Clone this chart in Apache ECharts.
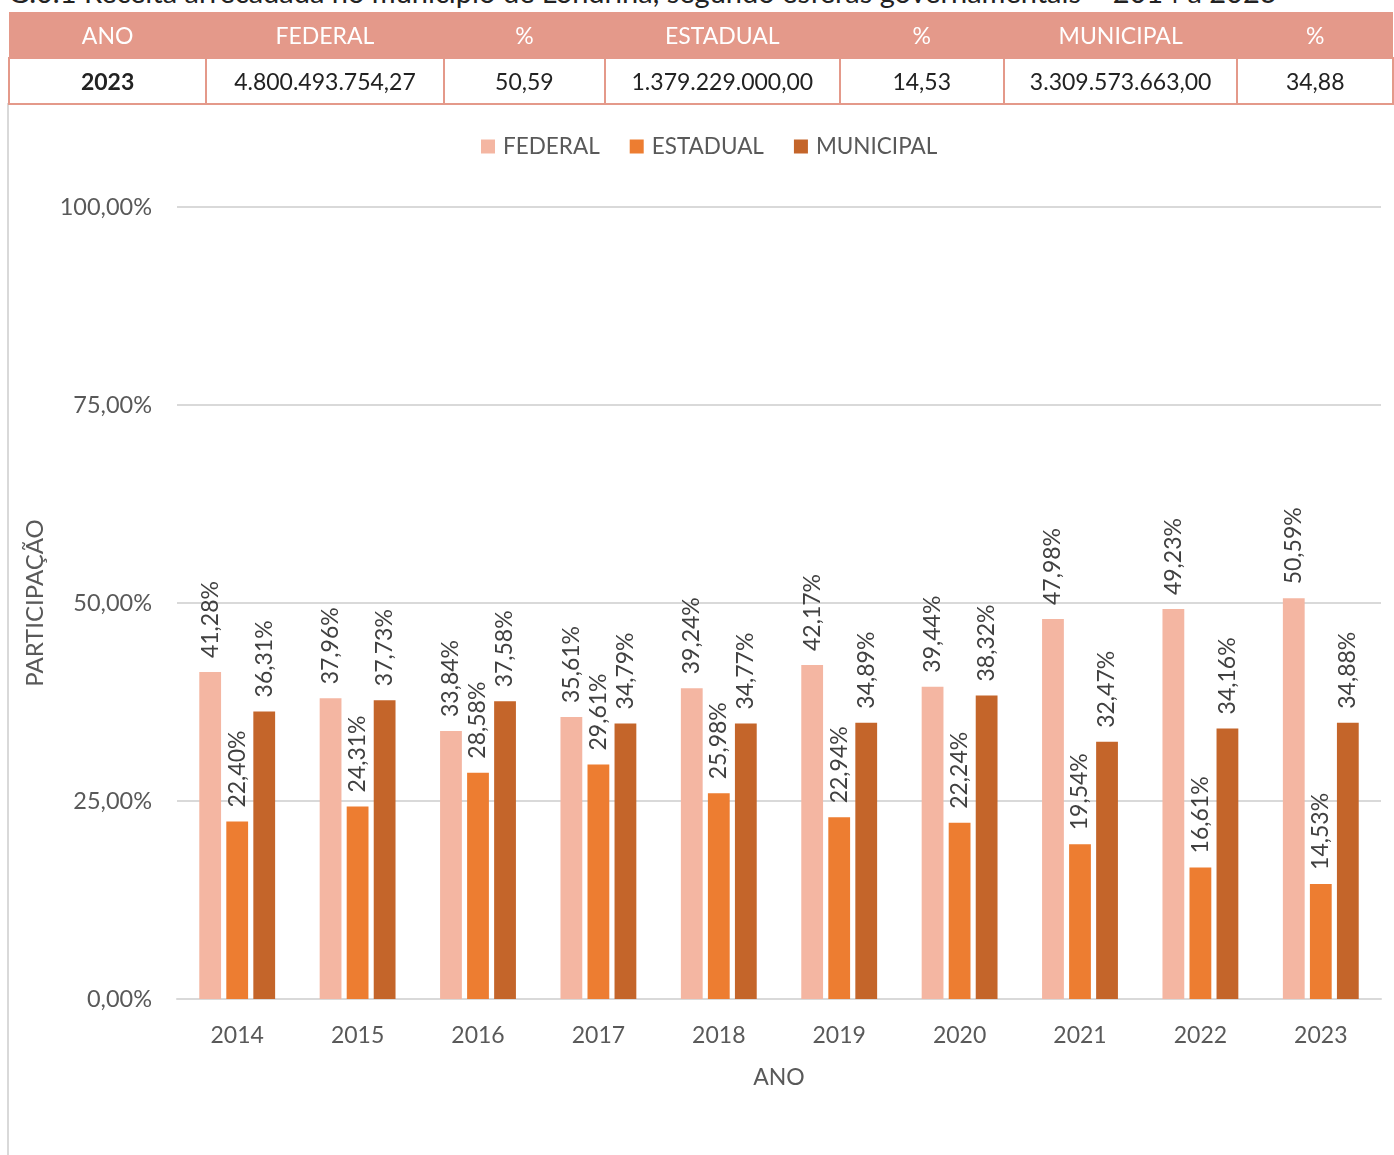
<!DOCTYPE html>
<html><head><meta charset="utf-8">
<script src="https://cdn.jsdelivr.net/npm/echarts@6/dist/echarts.min.js"></script>
<style>
html,body{margin:0;padding:0;background:#fff;width:1394px;height:1155px;overflow:hidden;font-family:Lato,"Noto Sans",sans-serif;}
#title{position:absolute;left:8px;top:-26px;font-size:29px;color:#222;white-space:nowrap;}
#tbl{position:absolute;left:8px;top:12px;border-collapse:collapse;table-layout:fixed;}
#tbl td{text-align:center;font-size:23px;padding:0;}
#tbl tr.h td{background:#E4998A;color:#fff;height:45px;}
#tbl tr.d td{background:#fff;color:#222;height:44px;border:2px solid #E4998A;}
#frame{position:absolute;left:7px;top:103px;width:1390px;height:1060px;border-left:2px solid #D9D9D9;border-top:2px solid #D9D9D9;}
#chart{position:absolute;left:0;top:0;width:1394px;height:1155px;}
</style></head>
<body>
<div id="title">G.0.1 Receita arrecadada no município de Londrina, segundo esferas governamentais – 2014 a 2023</div>
<div id="frame"></div>
<div id="chart"></div>
<table id="tbl"><tbody></tbody></table>
<script>
// ---- data ----
const tableHeaders = ['ANO','FEDERAL','%','ESTADUAL','%','MUNICIPAL','%'];
const tableRow = ['2023','4.800.493.754,27','50,59','1.379.229.000,00','14,53','3.309.573.663,00','34,88'];
const years = ['2014','2015','2016','2017','2018','2019','2020','2021','2022','2023'];
const federal   = [41.28, 37.96, 33.84, 35.61, 39.24, 42.17, 39.44, 47.98, 49.23, 50.59];
const estadual  = [22.40, 24.31, 28.58, 29.61, 25.98, 22.94, 22.24, 19.54, 16.61, 14.53];
const municipal = [36.31, 37.73, 37.58, 34.79, 34.77, 34.89, 38.32, 32.47, 34.16, 34.88];
const seriesNames = ['FEDERAL','ESTADUAL','MUNICIPAL'];

// ---- table ----
const colW = [199,237,162,234,165,233,156];
const tb = document.querySelector('#tbl tbody');
const mk = (cls, cells, bold) => {
  const tr = document.createElement('tr'); tr.className = cls;
  cells.forEach((c,i)=>{const td=document.createElement('td');td.textContent=c;td.style.width=colW[i]+'px';if(bold&&i===0){td.style.fontWeight='bold';}tr.appendChild(td);});
  tb.appendChild(tr);
};
mk('h', tableHeaders, false);
mk('d', tableRow, true);

// ---- chart ----
const FONT = 'Lato, "Noto Sans", sans-serif';
const fmt = v => v.toFixed(2).replace('.', ',') + '%';
const colors = ['#F4B6A2','#ED7D31','#C4652A'];
const chart = echarts.init(document.getElementById('chart'));
const mkSeries = (name, data, color) => ({
  name, type:'bar', data, barGap:'24%', barCategoryGap:'37%',
  itemStyle:{color},
  label:{show:true, position:'top', rotate:90, align:'left', verticalAlign:'middle', distance:14,
    formatter:p=>fmt(p.value), fontSize:23, color:'#404040', fontFamily:FONT}
});
chart.setOption({
  animation:false,
  textStyle:{fontFamily:FONT},
  legend:{top:130, left:476, itemWidth:14, itemHeight:14, itemGap:30,
    textStyle:{fontSize:22.5, color:'#595959', fontFamily:FONT, padding:[0,0,0,3]}, data:seriesNames, icon:'rect'},
  grid:{left:177, right:13, top:207, bottom:156, containLabel:false},
  xAxis:{type:'category', data:years, name:'ANO', nameLocation:'middle', nameGap:67,
    nameTextStyle:{fontSize:23, color:'#595959', fontFamily:FONT},
    axisLine:{lineStyle:{color:'#D9D9D9', width:2}}, axisTick:{show:false},
    axisLabel:{fontSize:23, color:'#595959', margin:25, fontFamily:FONT}},
  yAxis:{type:'value', min:0, max:100, interval:25, name:'PARTICIPAÇÃO', nameLocation:'middle', nameGap:130,
    nameTextStyle:{fontSize:24, color:'#595959', fontFamily:FONT},
    axisLine:{show:false}, axisTick:{show:false},
    splitLine:{lineStyle:{color:'#D9D9D9', width:2}},
    axisLabel:{formatter:fmt, fontSize:23.5, color:'#595959', margin:25, fontFamily:FONT}},
  series:[mkSeries(seriesNames[0], federal, colors[0]), mkSeries(seriesNames[1], estadual, colors[1]), mkSeries(seriesNames[2], municipal, colors[2])]
});
</script>
</body></html>
